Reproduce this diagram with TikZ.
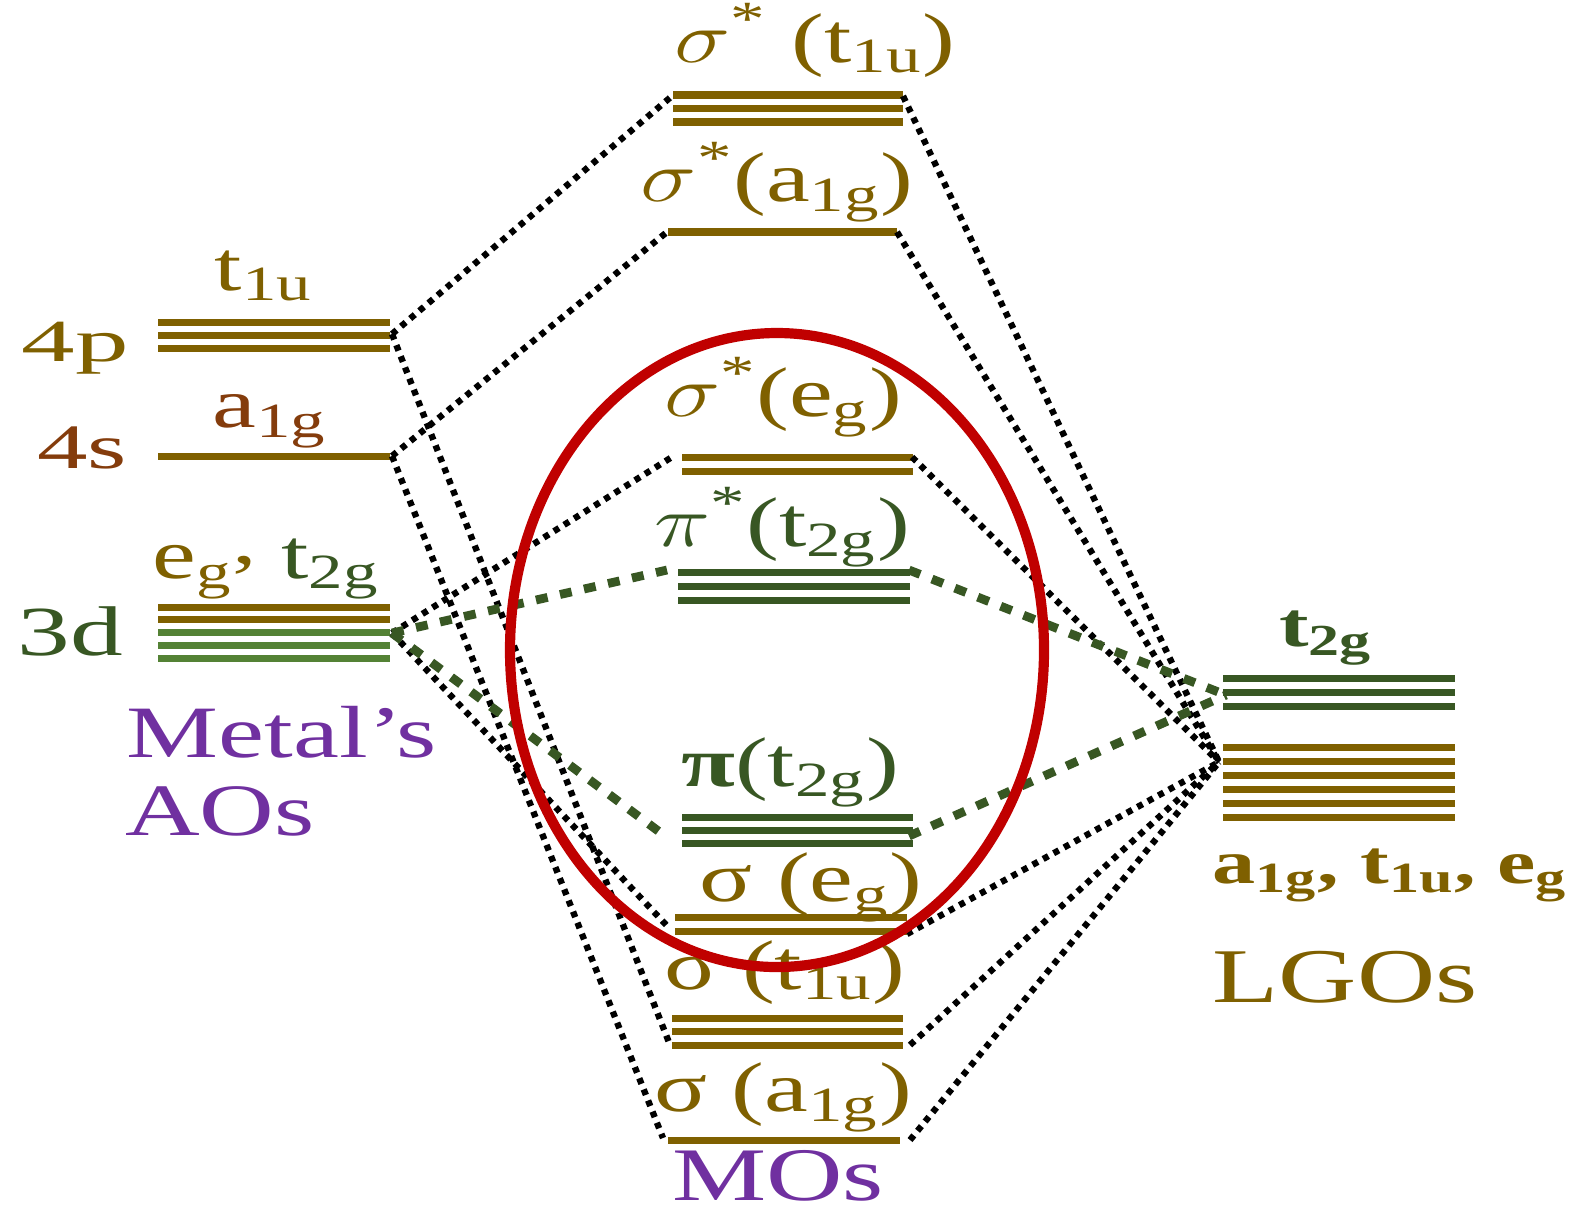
\documentclass[tikz,border=0pt]{standalone}
\usepackage{fontspec}
\setmainfont[FakeStretch=1.4]{Liberation Serif}
\usetikzlibrary{calc}
\definecolor{olivegold}{HTML}{7F6000}
\definecolor{leafgreen}{HTML}{385723}
\definecolor{lightleaf}{HTML}{548235}
\definecolor{rustbrown}{HTML}{843C0C}
\definecolor{aopurple}{HTML}{7030A0}
\definecolor{ringred}{HTML}{C00000}
\newcommand{\sbs}[1]{\textsubscript{#1}}
\newcommand{\starred}[1]{\scalebox{1.3}[1]{$#1$}\textsuperscript{*}}
% degenerate set: x left, x right, top y, count, gap, colour
\newcommand{\levelset}[6]{%
  \foreach \k in {1,...,#4}{
    \draw[orbline,#6] (#1,{#3+(\k-1)*#5}) -- (#2,{#3+(\k-1)*#5});
  }%
}

\begin{document}
\begin{tikzpicture}[x=0.01cm,y=-0.01cm,
    orbline/.style={line width=2pt},
    lbl/.style={inner sep=0pt,anchor=base,font=\fontsize{20}{22}\selectfont},
    sigmalink/.style={black,line width=1.8pt,dash pattern=on 1.7pt off 1.7pt},
    pilink/.style={leafgreen,line width=2.5pt,dash pattern=on 3.4pt off 3.6pt}]
  \useasboundingbox (0,0) rectangle (1583,1217);

  % metal AOs
  \levelset{158}{390}{322}{3}{13}{olivegold}
  \levelset{158}{390}{456}{1}{13}{olivegold}
  \levelset{158}{390}{607}{2}{12}{olivegold}
  \levelset{158}{390}{632}{3}{13}{lightleaf}
  % MOs
  \levelset{673}{903}{95}{3}{13.5}{olivegold}
  \levelset{668}{897}{232}{1}{13}{olivegold}
  \levelset{682}{913}{457}{2}{14}{olivegold}
  \levelset{678}{910}{572}{3}{14}{leafgreen}
  \levelset{682}{913}{817}{3}{13}{leafgreen}
  \levelset{675}{907}{917}{2}{14}{olivegold}
  \levelset{672}{903}{1018}{3}{13.5}{olivegold}
  \levelset{668}{900}{1140}{1}{13}{olivegold}
  % LGOs
  \levelset{1223}{1455}{678}{3}{14}{leafgreen}
  \levelset{1223}{1455}{747}{6}{14}{olivegold}

  \coordinate (p4-r) at (392,334);
  \coordinate (s4-r) at (392,456);
  \coordinate (d3-r) at (392,633);
  \coordinate (st1us-l) at (672,96);   \coordinate (st1us-r) at (903,96);
  \coordinate (sa1gs-l) at (667,232);  \coordinate (sa1gs-r) at (897,232);
  \coordinate (segs-l) at (672,457);   \coordinate (segs-r) at (912,457);
  \coordinate (pt2gs-l) at (667,570);  \coordinate (pt2gs-r) at (909,570);
  \coordinate (pt2g-l) at (665,836);   \coordinate (pt2g-r) at (909,836);
  \coordinate (seg-l) at (670,929);    \coordinate (seg-r) at (907,934);
  \coordinate (st1u-l) at (670,1045);  \coordinate (st1u-r) at (910,1045);
  \coordinate (sa1g-l) at (663,1138);  \coordinate (sa1g-r) at (910,1140);
  \coordinate (lgo) at (1219,762);
  \coordinate (lgt) at (1226,695);

  \draw[sigmalink] (p4-r) -- (st1us-l);
  \draw[sigmalink] (p4-r) -- (st1u-l);
  \draw[sigmalink] (s4-r) -- (sa1gs-l);
  \draw[sigmalink] (s4-r) -- (sa1g-l);
  \draw[sigmalink] (d3-r) -- (segs-l);
  \draw[sigmalink] (d3-r) -- (seg-l);
  \draw[pilink] (d3-r) -- (pt2gs-l);
  \draw[pilink] (d3-r) -- (pt2g-l);
  \foreach \mo in {st1us,sa1gs,segs,seg,st1u,sa1g}
    \draw[sigmalink] (\mo-r) -- (lgo);
  \foreach \mo in {pt2gs,pt2g}
    \draw[pilink] (\mo-r) -- (lgt);

  % labels
  \node[lbl,font=\fontsize{17}{20}\selectfont,text=olivegold] (lab4p) at (75,361) {\scalebox{1.28}[1]{4p}};
  \node[lbl,font=\fontsize{18}{20}\selectfont,text=rustbrown] (lab4s) at (82,468) {\scalebox{1.14}[1]{4s}};
  \node[lbl,text=leafgreen] (lab3d) at (70,655) {\scalebox{1.07}[1]{3d}};
  \node[lbl,text=olivegold] (labt1u) at (264,290) {t\sbs{1u}};
  \node[lbl,text=rustbrown] (laba1g) at (270,427) {a\sbs{1g}};
  \node[lbl] (labd) at (266,578) {\textcolor{olivegold}{e\sbs{g}\raisebox{.2em}{,}} \textcolor{leafgreen}{t\sbs{2g}}};
  \node[lbl,font=\fontsize{21}{24}\selectfont,text=aopurple] (metal) at (282,757) {Metal's};
  \node[lbl,font=\fontsize{21}{24}\selectfont,text=aopurple] (aos) at (220,835) {AOs};

  \node[lbl,text=olivegold] (mo1) at (815,62) {\starred{\sigma} (t\sbs{1u})};
  \node[lbl,text=olivegold] (mo2) at (777,201) {\starred{\sigma}(a\sbs{1g})};
  \node[lbl,text=olivegold] (mo3) at (783,416) {\starred{\sigma}(e\sbs{g})};
  \node[lbl,text=leafgreen] (mo4) at (782,546) {\starred{\pi}(t\sbs{2g})};
  \node[lbl,text=leafgreen] (mo5) at (790,786) {\textbf{π}(t\sbs{2g})};
  \node[lbl,text=olivegold] (mo6) at (811,901) {σ (e\sbs{g})};
  \node[lbl,text=olivegold] (mo7) at (785,989) {σ (t\sbs{1u})};
  \node[lbl,text=olivegold] (mo8) at (783,1111) {σ (a\sbs{1g})};
  \node[lbl,font=\fontsize{21.5}{24}\selectfont,text=aopurple] (mos) at (778,1200) {MOs};

  \node[lbl,font=\fontsize{18}{20}\selectfont\bfseries,text=leafgreen] (labt2g) at (1326,646) {t\sbs{2g}};
  \node[lbl,font=\fontsize{17.5}{20}\selectfont\bfseries,text=olivegold] (labrest) at (1390,883) {a\sbs{1g}, t\sbs{1u}, e\sbs{g}};
  \node[lbl,font=\fontsize{22}{24}\selectfont,text=olivegold] (lgos) at (1345,1002) {LGOs};

  \draw[ringred,line width=2.9pt] (777,650) ellipse [x radius=267,y radius=317];
\end{tikzpicture}
\end{document}
